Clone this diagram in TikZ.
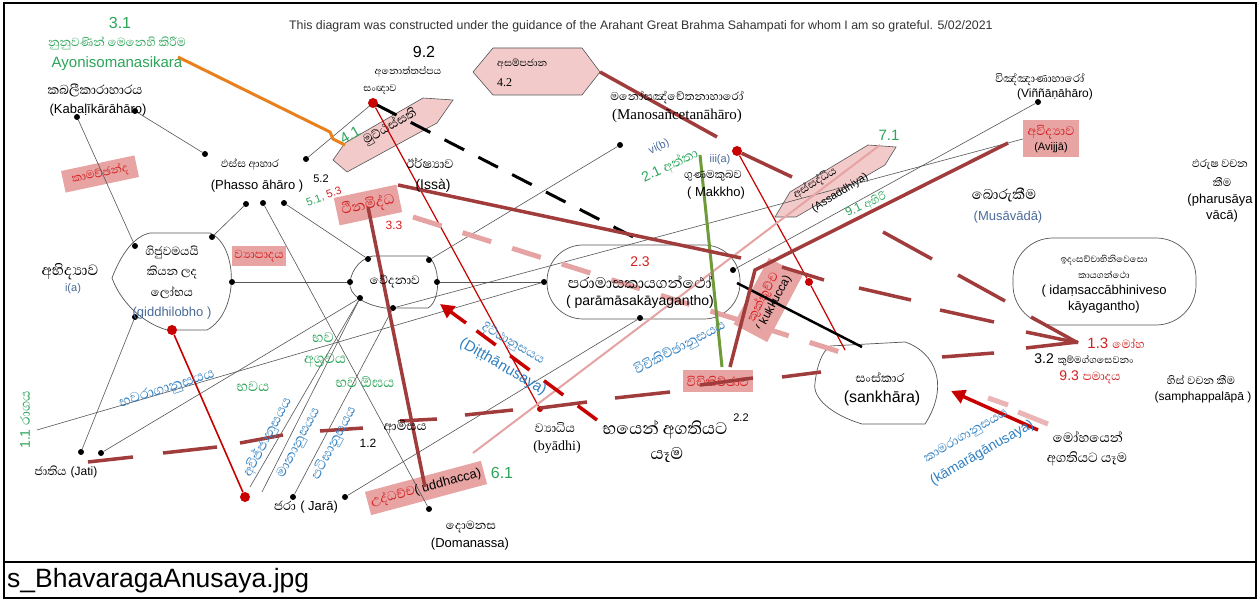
\documentclass[tikz,border=0pt]{standalone}
\usepackage{fontspec}
\setmainfont{Liberation Sans}
\newfontfamily\snhf[Script=Sinhala]{Abhaya Libre}
\newfontfamily\serf{Liberation Serif}
\newcommand{\snh}[1]{{\snhf #1}}
\newcommand{\fsz}[1]{\fontsize{#1}{#1}\selectfont}
\usetikzlibrary{arrows.meta}
\definecolor{grn}{HTML}{2CA55A}
\definecolor{blu}{HTML}{2F7FC1}
\definecolor{slate}{HTML}{4A6B9A}
\definecolor{redt}{HTML}{D42020}
\definecolor{pinkb}{HTML}{E8A3A3}
\definecolor{pinkh}{HTML}{F2CACA}
\definecolor{brn}{HTML}{A03C3C}
\definecolor{pinkl}{HTML}{E6A3A3}
\definecolor{dred}{HTML}{C80000}
\definecolor{orng}{HTML}{E8801E}
\definecolor{olive}{HTML}{6F9A3A}
\definecolor{gry}{HTML}{555555}
\tikzset{
 tl/.style={draw=gry, line width=0.6pt},
 dotb/.style={circle, fill=black, inner sep=0pt, minimum size=6pt},
 dotr/.style={circle, fill=dred, inner sep=0pt, minimum size=10pt},
 brl/.style={draw=brn, line width=3.5pt},
 pbox/.style={fill=pinkb, inner sep=2pt, align=center},
 poly/.style={fill=pinkh, draw=gry, line width=0.6pt},
 shp/.style={draw=gry, line width=0.7pt},
 lbl/.style={inner sep=0pt, align=center},
}
\begin{document}
\begin{tikzpicture}[x=1pt,y=-1pt]
\useasboundingbox (0,0) rectangle (1260,601);
\fill[white] (0,0) rectangle (1260,601);
% frame
\draw[line width=1.6pt] (4,3) rectangle (1256,598);
\draw[line width=1.6pt] (4,562) -- (1256,562);
\node[lbl, anchor=west, font=\fsz{26.5}] (cap) at (7,581) {s\_BhavaragaAnusaya.jpg};
\node[lbl, anchor=west, font=\fsz{12.35}, text=black!80] (title) at (289,26) {This diagram was constructed under the guidance of the Arahant Great Brahma Sahampati for whom I am so grateful. 5/02/2021};

% pink boxes (under lines)
\node[pbox, rotate=12, minimum width=75pt, minimum height=22pt, font=\fsz{14.5}, text=redt] (kama) at (100,174) {\snh{කාමච්ඡන්ද}};
\node[pbox, minimum width=54pt, minimum height=20pt, font=\fsz{15}, text=redt] (vyap) at (259,256) {\snh{ව්^^^^200dයාපාදය}};
\node[pbox, rotate=12, minimum width=64pt, minimum height=28pt, font=\fsz{18}, text=redt] (thina) at (368,205) {\snh{ථීනමිද්ධ}};
\node[pbox, rotate=15, minimum width=120pt, minimum height=24pt, font=\fsz{13}] (uddh) at (426,488) {\textcolor{redt}{\fsz{16}\snh{උද්ධච්ච}}( uddhacca)};
\node[pbox, minimum width=70pt, minimum height=22pt, font=\fsz{16}, text=redt] (vici) at (718,381) {\snh{විචිකිච්ඡාව}};
\node[pbox, rotate=62, minimum width=75pt, minimum height=38pt, font=\fsz{12}] (kukk) at (768,300) {\textcolor{redt}{\fsz{16}\snh{කුක්කුච්ච}}\\( kukkucca)};
\node[pbox, minimum width=56pt, minimum height=37pt, font=\fsz{11}] (avij) at (1051,139) {\textcolor{redt}{\fsz{16}\snh{අවිද්^^^^200dයාව}}\\[3pt](Avijjā)};

% polygons
\draw[poly] (473,72) -- (493,48) -- (582,48) -- (600,72) -- (582,95) -- (493,95) -- cycle;
\node[lbl, anchor=west, font=\fsz{12.5}] (asam) at (497,64) {\snh{අසම්පජාන}};
\node[lbl, anchor=west, font=\fsz{12}\serf] (n42) at (497,83) {4.2};
\draw[poly] (333,160) -- (345,143) -- (423,98) -- (453,100) -- (437,123) -- (347,172) -- cycle;
\node[lbl, rotate=30, font=\fsz{16}] (mutt) at (390,127) {\snh{මුට්ඨස්සති}};
\draw[poly] (775,217) -- (790,192) -- (868,145) -- (896,147) -- (885,165) -- (796,217) -- cycle;
\node[lbl, rotate=32, font=\fsz{14}] (assa) at (815,183) {\snh{අස්සද්ධිය}};
\node[lbl, rotate=32, font=\fsz{11}] (assb) at (840,193) {(Assaddhiya)};

% node shapes
\draw[shp] (112,278) .. controls (122,252) and (135,236) .. (150,233) -- (210,233) .. controls (238,245) and (240,312) .. (207,330) -- (167,330) .. controls (140,322) and (120,300) .. (112,278);
\draw[shp] (373,256) -- (427,256) .. controls (440,262) and (442,300) .. (428,308) -- (385,308) .. controls (365,305) and (348,295) .. (350,282) .. controls (352,268) and (362,258) .. (373,256);
\draw[shp, rounded corners=36pt] (547,245) rectangle (740,319);
\draw[shp] (830,346) -- (905,342) .. controls (935,352) and (950,385) .. (925,424) -- (862,424) .. controls (832,415) and (812,398) .. (815,383) .. controls (817,365) and (822,352) .. (830,346);
\draw[shp, rounded corners=40pt] (1013,238) rectangle (1196,325);

% dots
\node[dotb] (kd1) at (77,117) {};
\node[dotb] (kd2) at (135,111) {};
\node[dotb] (pd0) at (205,154) {};
\node[dotb] (pd4) at (306,159) {};
\node[dotb] (pd1) at (246,204) {};
\node[dotb] (pd2) at (263,203) {};
\node[dotb] (pd3) at (284,203) {};
\node[dotb] (gd1) at (135,246) {};
\node[dotb] (gd2) at (212,237) {};
\node[dotb] (gd3) at (232,282) {};
\node[dotb] (gd4) at (135,317) {};
\node[dotb] (vd1) at (368,259) {};
\node[dotb] (vd2) at (429,260) {};
\node[dotb] (vd3) at (350,282) {};
\node[dotb] (vd4) at (437,282) {};
\node[dotb] (vd5) at (360,298) {};
\node[dotb] (vd6) at (393,308) {};
\node[dotb] (pmL) at (544,282) {};
\node[dotb] (pmB) at (640,318) {};
\node[dotb] (pmR) at (733,270) {};
\node[dotb] (md) at (620,145) {};
\node[dotb] (vnd) at (1038,102) {};
\node[dotb] (jt1) at (81,452) {};
\node[dotb] (jt2) at (101,453) {};
\node[dotb] (jr1) at (293,497) {};
\node[dotb] (jr2) at (345,497) {};
\node[dotb] (dm) at (429,509) {};
\coordinate (c11) at (37,430);
\coordinate (f1) at (250,487);
\coordinate (f2) at (262,492);

% thin lines
\draw[tl] (kd1) -- (gd1);
\draw[tl] (kd2) -- (pd0);
\draw[tl] (pd1) -- (gd2);
\draw[tl] (pd2) -- (dm);
\draw[tl] (pd3) -- (vd1);
\draw[tl] (gd3) -- (vd3);
\draw[tl] (vd4) -- (pmL);
\draw[tl] (vd2) -- (md);
\draw[tl] (vd6) -- (avij.west);
\draw[tl] (vnd) -- (pmR);
\draw[tl] (gd4) -- (jt1);
\draw[tl] (c11) -- (pmL);
\draw[tl] (jt2) -- (vd5);
\draw[tl] (f1) -- (vd5);
\draw[tl] (f2) -- (vd5);
\draw[tl] (jr1) -- (vd6);
\draw[tl] (jr2) -- (pmB);

% red dots
\node[dotr] (sn) at (373,103) {};
\node[dotr] (mk) at (737,151) {};
\node[dotr] (gr) at (172,330) {};
\node[dotr] (av) at (245,497) {};
\node[circle, fill=dred, inner sep=0pt, minimum size=8pt] (kk) at (809,282) {};
\node[circle, fill=dred, inner sep=0pt, minimum size=6pt] (by) at (540,409) {};
\coordinate (r2e) at (845,350);
\draw[tl] (pd4) -- (sn);

% thin red
\draw[dred, line width=1.2pt] (sn) -- (by);
\draw[dred, line width=1.2pt] (mk) -- (kk) -- (r2e);
\draw[dred, line width=1.6pt] (gr) -- (av);

% pink lines
\draw[pinkl, line width=2pt] (473,453) -- (880,145);
\draw[pinkl, line width=5pt, dash pattern=on 30pt off 22pt] (413,217) -- (840,352);

% orange, green, black dashed, black
\draw[orng, line width=3pt] (178,57) -- (330,132) -- (333,139) -- (345,145);
\draw[olive, line width=3pt] (700,155) -- (722,367);
\draw[black, line width=3pt, dash pattern=on 22pt off 16pt] (377,105) -- (645,243);
\draw[black, line width=2.5pt] (737,283) -- (862,347);

% brown lines
\draw[brl] (600,72) -- (717,137);
\draw[brl] (mk) -- (792,177);
\draw[brl] (883,232) -- (932,259);
\draw[brl] (958,275) -- (1005,301);
\draw[brl] (1031,317) -- (1078,343);
\draw[brl] (398,185) -- (741,258);
\draw[brl] (782,267) -- (824,280);
\draw[brl] (859,288) -- (911,300);
\draw[brl] (940,310) -- (994,322);
\draw[brl] (1026,332) -- (1074,342);
\draw[brl] (88,462) -- (133,457);
\draw[brl] (163,453) -- (217,447);
\draw[brl] (240,443) -- (283,435);
\draw[brl] (320,431) -- (363,428);
\draw[brl] (400,421) -- (437,419);
\draw[brl] (465,415) -- (513,410);
\draw[brl] (540,408) -- (587,402);
\draw[brl] (615,398) -- (670,392);
\draw[brl] (700,385) -- (753,378);
\draw[brl] (782,377) -- (821,372);
\draw[brl] (942,357) -- (994,353);
\draw[brl] (1026,348) -- (1078,342);
\draw[brl] (368,207) -- (425,487);
\draw[brl] (1008,143) -- (755,270) -- (730,367);

% red arrows
\draw[dred, line width=3.5pt, dash pattern=on 24pt off 18pt] (597,420) -- (462,320);
\draw[dred, line width=3.5pt, -{Triangle[length=14pt,width=14pt]}] (466,323) -- (440,304);
\draw[pinkl, line width=5pt, opacity=0.8] (988,398) -- (1008,405);
\draw[pinkl, line width=5pt, opacity=0.8] (1018,412) -- (1048,424);
\draw[dred, line width=3.5pt, -{Triangle[length=14pt,width=14pt]}] (1038,430) -- (951,391);

% labels
\node[lbl, font=\fsz{16}, text=grn] (t31) at (120,23) {3.1};
\node[lbl, font=\fsz{15}, text=grn] (ayo1) at (117,43) {\snh{නුනුවණින් මෙනෙහි කිරීම}};
\node[lbl, font=\fsz{15}, text=grn] (ayo2) at (117,64) {Ayonisomanasikara};
\node[lbl, font=\fsz{16.5}] (kab1) at (95,90) {\snh{කබලීකාරාහාරය}};
\node[lbl, font=\fsz{13}] (kab2) at (98,110) {(Kabaḷīkārāhāro)};
\node[lbl, font=\fsz{13.5}] (phs1) at (250,165) {\snh{ඵස්ස ආහාර}};
\node[lbl, font=\fsz{13}] (phs2) at (257,186) {(Phasso āhāro )};
\node[lbl, font=\fsz{11}] (n52) at (321,179) {5.2};
\node[lbl, font=\fsz{11}, rotate=20] (n51) at (324,197) {\textcolor{grn}{5.1,} \textcolor{redt}{5.3}};
\node[lbl, font=\fsz{16}] (n92) at (424,52) {9.2};
\node[lbl, font=\fsz{12.5}] (anot) at (408,72) {\snh{අනොත්තප්පය}};
\node[lbl, font=\fsz{12.5}] (sann) at (380,90) {\snh{සංඥාව}};
\node[lbl, font=\fsz{15}, text=grn, rotate=30] (n41) at (350,135) {4.1};
\node[lbl, font=\fsz{14.5}] (mano1) at (677,97) {\snh{මනෝසඤ්චේතනාහාරෝ}};
\node[lbl, font=\fsz{15}\serf] (mano2) at (677,116) {(Manosañcetanāhāro)};
\node[lbl, font=\fsz{11}, text=slate, rotate=25] (vib) at (659,147) {vi(b)};
\node[lbl, font=\fsz{14}, text=grn, rotate=25] (n21) at (670,166) {2.1 \fsz{17}\snh{අත්තා}};
\node[lbl, font=\fsz{11}, text=slate] (iiia) at (720,160) {iii(a)};
\node[lbl, font=\fsz{14.5}] (makk1) at (713,176) {\snh{ගුණමකුබව}};
\node[lbl, font=\fsz{13}] (makk2) at (716,193) {( Makkho)};
\node[lbl, font=\fsz{16}] (issa1) at (430,163) {\snh{ඊර්ෂ්^^^^200dයාව}};
\node[lbl, font=\fsz{14}] (issa2) at (433,186) {(Issà)};
\node[lbl, font=\fsz{12}, text=redt] (n33) at (394,225) {3.3};
\node[lbl, font=\fsz{15.5}] (ved) at (395,282) {\snh{වේදනාව}};
\node[lbl, font=\fsz{15}] (gid1) at (172,252) {\snh{ගිජුවමයයි}};
\node[lbl, font=\fsz{15}] (gid2) at (172,272) {\snh{කියන ලද}};
\node[lbl, font=\fsz{15}] (gid3) at (172,293) {\snh{ලෝභය}};
\node[lbl, font=\fsz{13}, text=slate] (gid4) at (172,313) {(giddhilobho )};
\node[lbl, font=\fsz{19}] (abhi) at (70,272) {\snh{අභිද්^^^^200dයාව}};
\node[lbl, font=\fsz{11}, text=slate] (ia) at (73,289) {i(a)};
\node[lbl, font=\fsz{14}, text=redt] (n23) at (640,262) {2.3};
\node[lbl, font=\fsz{19.5}] (para1) at (640,282) {\snh{පරාමාසකායගන්ථෝ}};
\node[lbl, font=\fsz{14}] (para2) at (640,302) {( parāmāsakāyagantho)};
\node[lbl, font=\fsz{14}] (vin1) at (1040,80) {\snh{විඤ්ඤාණාහාරෝ}};
\node[lbl, font=\fsz{12}] (vin2) at (1055,94) {(Viññāṇāhāro)};
\node[lbl, font=\fsz{15}, text=grn] (n71) at (889,135) {7.1};
\node[lbl, font=\fsz{12}, text=grn, rotate=25] (n91) at (866,205) {9.1 \fsz{14}\snh{අහිරි}};
\node[lbl, font=\fsz{18}] (mus1) at (1004,195) {\snh{බොරුකීම}};
\node[lbl, font=\fsz{13}, text=slate] (mus2) at (1008,217) {(Musāvādā)};
\node[lbl, font=\fsz{14}] (pha1) at (1220,164) {\snh{ඵරුෂ වචන}};
\node[lbl, font=\fsz{14}] (pha2) at (1222,182) {\snh{කීම}};
\node[lbl, font=\fsz{13}] (pha3) at (1220,200) {(pharusāya};
\node[lbl, font=\fsz{13}] (pha4) at (1222,216) {vācā)};
\node[lbl, font=\fsz{11.5}] (ida1) at (1104,260) {\snh{ඉදංසච්චාභිනිවෙසො}};
\node[lbl, font=\fsz{11.5}] (ida2) at (1104,275) {\snh{කායගන්ථො}};
\node[lbl, font=\fsz{13}] (ida3) at (1104,291) {( idaṃsaccābhiniveso};
\node[lbl, font=\fsz{13}] (ida4) at (1104,307) {kāyagantho)};
\node[lbl, font=\fsz{15}, text=redt] (n13) at (1116,343) {1.3 \fsz{15}\snh{මෝහ}};
\node[lbl, font=\fsz{14}] (n32) at (1084,360) {3.2 \fsz{12.5}\snh{කුම්මග්ගසෙවනං}};
\node[lbl, font=\fsz{14}, text=redt] (n93) at (1090,377) {9.3 \fsz{15}\snh{පමාදය}};
\node[lbl, font=\fsz{14}] (his1) at (1201,380) {\snh{හිස් වචන කීම}};
\node[lbl, font=\fsz{12}] (his2) at (1203,397) {(samphappalāpā )};
\node[lbl, font=\fsz{15.5}] (san1) at (880,377) {\snh{සංස්කාර}};
\node[lbl, font=\fsz{16}] (san2) at (882,398) {(sankhāra)};
\node[lbl, font=\fsz{16}, text=blu, rotate=30] (kam1) at (966,436) {\snh{කාමරාගානුසයය}};
\node[lbl, font=\fsz{14}, text=blu, rotate=30] (kam2) at (982,453) {(kāmarāgānusaya)};
\node[lbl, font=\fsz{17}] (moh1) at (1088,437) {\snh{මෝහයෙන්}};
\node[lbl, font=\fsz{17}] (moh2) at (1087,459) {\snh{අගතියට යෑම}};
\node[lbl, font=\fsz{17}, text=blu, rotate=28] (vicn) at (680,348) {\snh{විචිකිච්ඡානුසයය}};
\node[lbl, font=\fsz{15.5}, text=blu, rotate=-30] (dit1) at (513,344) {\snh{දිට්ඨානුසයය}};
\node[lbl, font=\fsz{15}, text=blu, rotate=-30] (dit2) at (503,367) {(Diṭṭhānusaya)};
\node[lbl, font=\fsz{15.5}] (bya1) at (555,428) {\snh{ව්^^^^200dයාධිය}};
\node[lbl, font=\fsz{14}\serf] (bya2) at (557,447) {(byādhi)};
\node[lbl, font=\fsz{21.5}] (bay1) at (665,430) {\snh{භයෙන් අගතියට}};
\node[lbl, font=\fsz{21.5}] (bay2) at (667,455) {\snh{යෑම}};
\node[lbl, font=\fsz{11}] (n22) at (741,418) {2.2};
\node[lbl, font=\fsz{16}, text=grn] (n61) at (502,473) {6.1};
\node[lbl, font=\fsz{15}] (dom1) at (471,527) {\snh{දොමනස}};
\node[lbl, font=\fsz{13}] (dom2) at (470,544) {(Domanassa)};
\node[lbl, font=\fsz{13}] (jara) at (306,507) {\fsz{16}\snh{ජරා} \fsz{13}( Jarā)};
\node[lbl, font=\fsz{16}] (amis) at (405,427) {\snh{ආමිසය}};
\node[lbl, font=\fsz{12}] (n12) at (368,443) {1.2};
\node[lbl, font=\fsz{18}, text=grn] (bh1) at (323,338) {\snh{භව}};
\node[lbl, font=\fsz{18}, text=grn] (bh2) at (325,360) {\snh{අශ්^^^^200dරවය}};
\node[lbl, font=\fsz{18}, text=grn] (bh3) at (253,387) {\snh{භවය}};
\node[lbl, font=\fsz{18}, text=grn] (bh4) at (365,382) {\snh{භව ඕඝය}};
\node[lbl, font=\fsz{17}, text=blu, rotate=62] (avn) at (267,437) {\snh{අවිජ්ජානුසයය}};
\node[lbl, font=\fsz{17}, text=blu, rotate=62] (man) at (299,443) {\snh{මානානුසයය}};
\node[lbl, font=\fsz{17}, text=blu, rotate=62] (pat) at (334,443) {\snh{පටිඝානුසයය}};
\node[lbl, font=\fsz{18}, text=blu, rotate=18] (bhr) at (167,389) {\snh{භවරාගානුසයය}};
\node[lbl, font=\fsz{14}, text=grn, rotate=90] (n11) at (25,420) {1.1 \fsz{17}\snh{රාගය}};
\node[lbl, font=\fsz{12}] (jati) at (66,472) {\fsz{15}\snh{ජාතිය} \fsz{12}(Jati)};
\end{tikzpicture}
\end{document}
